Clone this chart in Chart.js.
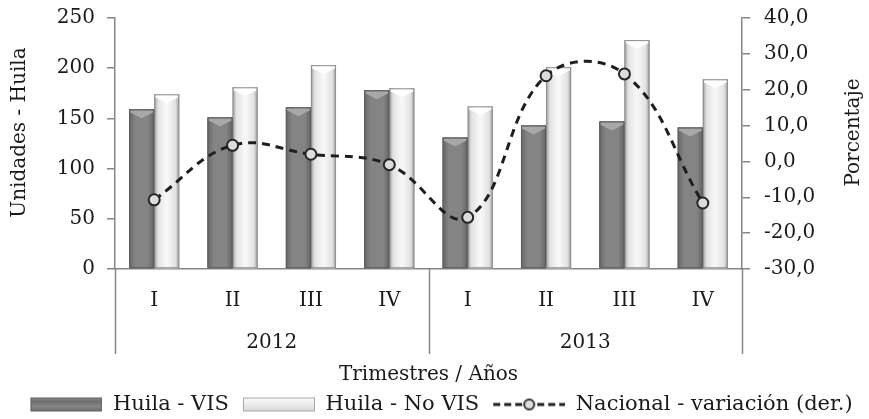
<!DOCTYPE html>
<html>
<head>
<meta charset="utf-8">
<script src="https://cdn.jsdelivr.net/npm/chart.js@4.4.1/dist/chart.umd.min.js"></script>
<style>
  html, body { margin: 0; padding: 0; background: #fff; }
  #wrap { width: 869px; height: 419px; position: relative; }
</style>
</head>
<body>
<div id="wrap"><canvas id="chart"></canvas></div>
<script>
// ---- data ----
const quarters = ['I', 'II', 'III', 'IV', 'I', 'II', 'III', 'IV'];
const years = ['2012', '2013'];
const huilaVis = [159, 151, 161, 178, 131, 143, 147, 141];
const huilaNoVis = [174, 181, 203, 180, 162, 201, 228, 189];
const nacionalVar = [-10.7, 4.5, 2.0, -0.9, -15.6, 23.9, 24.4, -11.6];

const axisGray = '#868686';
const textColor = '#1a1a1a';

Chart.defaults.font.family = "'DejaVu Serif', 'Liberation Serif', serif";
Chart.defaults.font.size = 20;
Chart.defaults.color = textColor;

// legend swatches drawn on small canvases (left margin gives the gap between items)
const SW = 86, GAP = 14;
function makeSwatch(kind) {
  const c = document.createElement('canvas');
  c.width = SW; c.height = 16;
  const g = c.getContext('2d');
  const w = SW - GAP;
  g.translate(GAP, 0);
  if (kind === 'line') {
    g.strokeStyle = '#1e1e1e'; g.lineWidth = 3; g.setLineDash([7, 4]);
    g.beginPath(); g.moveTo(0, 8); g.lineTo(w, 8); g.stroke();
    g.setLineDash([]);
    g.fillStyle = '#dedede'; g.lineWidth = 2; g.strokeStyle = '#333';
    g.beginPath(); g.arc(w / 2, 8, 5, 0, Math.PI * 2); g.fill(); g.stroke();
    return c;
  }
  const grad = g.createLinearGradient(0, 0, 0, 16);
  if (kind === 'vis') {
    grad.addColorStop(0, '#a0a0a0'); grad.addColorStop(0.3, '#6c6c6c');
    grad.addColorStop(0.6, '#858585'); grad.addColorStop(1, '#6a6a6a');
  } else {
    grad.addColorStop(0, '#ffffff'); grad.addColorStop(0.5, '#ececec');
    grad.addColorStop(1, '#d4d4d4');
  }
  g.fillStyle = grad; g.fillRect(0, 1, w, 14);
  g.strokeStyle = kind === 'vis' ? '#5e5e5e' : '#a8a8a8'; g.lineWidth = 1;
  g.strokeRect(0.5, 1.5, w - 1, 13);
  return c;
}

// bevel shading over the bars Chart.js has placed
const barShade = {
  id: 'barShade',
  afterDatasetDraw(chart, args) {
    const meta = args.meta;
    if (meta.type !== 'bar') return;
    const ctx = chart.ctx;
    const dark = meta.index === 0;
    ctx.save();
    meta.data.forEach(el => {
      const { x, y, base, width } = el.getProps(['x', 'y', 'base', 'width'], true);
      const l = x - width / 2, r = x + width / 2;
      const grad = ctx.createLinearGradient(l, 0, r, 0);
      if (dark) {
        grad.addColorStop(0, '#666'); grad.addColorStop(0.25, '#848484');
        grad.addColorStop(0.75, '#848484'); grad.addColorStop(1, '#646464');
      } else {
        grad.addColorStop(0, '#9c9c9c'); grad.addColorStop(0.15, '#e2e2e2');
        grad.addColorStop(0.5, '#f9f9f9'); grad.addColorStop(0.85, '#e2e2e2');
        grad.addColorStop(1, '#9c9c9c');
      }
      ctx.fillStyle = grad;
      ctx.fillRect(l, y, width, base - y);
      ctx.fillStyle = dark ? '#a8a8a8' : '#ffffff';
      ctx.beginPath();
      ctx.moveTo(l + 1, y + 1); ctx.lineTo(r - 1, y + 1); ctx.lineTo(r - 1, y + 3);
      ctx.lineTo(x, y + 9); ctx.lineTo(l + 1, y + 3); ctx.closePath(); ctx.fill();
      ctx.strokeStyle = dark ? '#5c5c5c' : '#8e8e8e'; ctx.lineWidth = 1;
      ctx.strokeRect(l + 0.5, y + 0.5, width - 1, base - y - 1);
    });
    ctx.restore();
  }
};

// year group separators and rotated axis titles
const decorations = {
  id: 'decorations',
  afterDraw(chart) {
    const { ctx, chartArea, scales } = chart;
    const x = scales.x, yr = scales.years;
    const mid = (x.getPixelForValue(3) + x.getPixelForValue(4)) / 2;
    const bottom = yr.top + 35;
    ctx.save();
    ctx.strokeStyle = axisGray; ctx.lineWidth = 1.5;
    [x.left, mid, x.right].forEach(px => {
      ctx.beginPath(); ctx.moveTo(Math.round(px) + 0.5, chartArea.bottom);
      ctx.lineTo(Math.round(px) + 0.5, bottom); ctx.stroke();
    });
    ctx.fillStyle = textColor;
    ctx.font = "20px 'DejaVu Serif', serif";
    ctx.textAlign = 'center'; ctx.textBaseline = 'middle';
    const cy = (chartArea.top + chartArea.bottom) / 2 - 11;
    [['Unidades - Huila', scales.y.left + 20], ['Porcentaje', scales.y1.right - 15]].forEach(([t, px]) => {
      ctx.save(); ctx.translate(px, cy); ctx.rotate(-Math.PI / 2);
      ctx.fillText(t, 0, 0); ctx.restore();
    });
    ctx.restore();
  }
};

const swatches = [makeSwatch('vis'), makeSwatch('novis'), makeSwatch('line')];

new Chart(document.getElementById('chart'), {
  data: {
    labels: quarters,
    datasets: [
      { type: 'bar', label: 'Huila - VIS', data: huilaVis, backgroundColor: '#7f7f7f', yAxisID: 'y', order: 1,
        categoryPercentage: 0.64, barPercentage: 1.0 },
      { type: 'bar', label: 'Huila - No VIS', data: huilaNoVis, backgroundColor: '#eeeeee', yAxisID: 'y', order: 1,
        categoryPercentage: 0.64, barPercentage: 1.0 },
      { type: 'line', label: 'Nacional - variación (der.)', data: nacionalVar, yAxisID: 'y1', order: 0,
        borderColor: '#1e1e1e', borderWidth: 3, borderDash: [8, 6], tension: 0.4, fill: false,
        pointRadius: 5.5, pointBackgroundColor: '#dcdcdc', pointBorderColor: '#262626', pointBorderWidth: 2 }
    ]
  },
  options: {
    responsive: true,
    maintainAspectRatio: false,
    animation: false,
    devicePixelRatio: 1,
    layout: { padding: { top: 18, left: 0, right: 0, bottom: -6 } },
    plugins: {
      tooltip: { enabled: false },
      legend: {
        position: 'bottom',
        labels: {
          usePointStyle: true, pointStyleWidth: SW, padding: 0, color: textColor,
          font: { size: 21 },
          generateLabels: chart => chart.data.datasets.map((d, i) => ({
            text: d.label, pointStyle: swatches[i], datasetIndex: i,
            fillStyle: 'transparent', strokeStyle: 'transparent', lineWidth: 0, fontColor: textColor
          }))
        }
      }
    },
    scales: {
      x: {
        grid: { display: false },
        border: { display: true, color: axisGray, width: 1.5 },
        ticks: { padding: 12, color: textColor },
        afterFit: s => { s.height = 50; }
      },
      years: {
        type: 'category', labels: years, position: 'bottom', offset: true,
        grid: { display: false }, border: { display: false },
        ticks: { padding: 4, color: textColor },
        title: { display: true, text: 'Trimestres / Años', color: textColor, padding: { top: 0, bottom: 7 } },
        afterFit: s => { s.height = 75; }
      },
      y: {
        position: 'left', min: 0, max: 250,
        ticks: { stepSize: 50, padding: 12, color: textColor },
        grid: { drawOnChartArea: false, tickLength: 8, color: axisGray, lineWidth: 1.5 },
        border: { color: axisGray, width: 1.5 },
        afterFit: s => { s.width = 115; s.paddingTop = 0; s.paddingBottom = 0; }
      },
      y1: {
        position: 'right', min: -30, max: 40,
        ticks: { stepSize: 10, padding: 14, color: textColor, callback: v => v.toFixed(1).replace('.', ',') },
        grid: { drawOnChartArea: false, tickLength: 8, color: axisGray, lineWidth: 1.5 },
        border: { color: axisGray, width: 1.5 },
        afterFit: s => { s.width = 127; s.paddingTop = 0; s.paddingBottom = 0; }
      }
    }
  },
  plugins: [barShade, decorations]
});
</script>
</body>
</html>
